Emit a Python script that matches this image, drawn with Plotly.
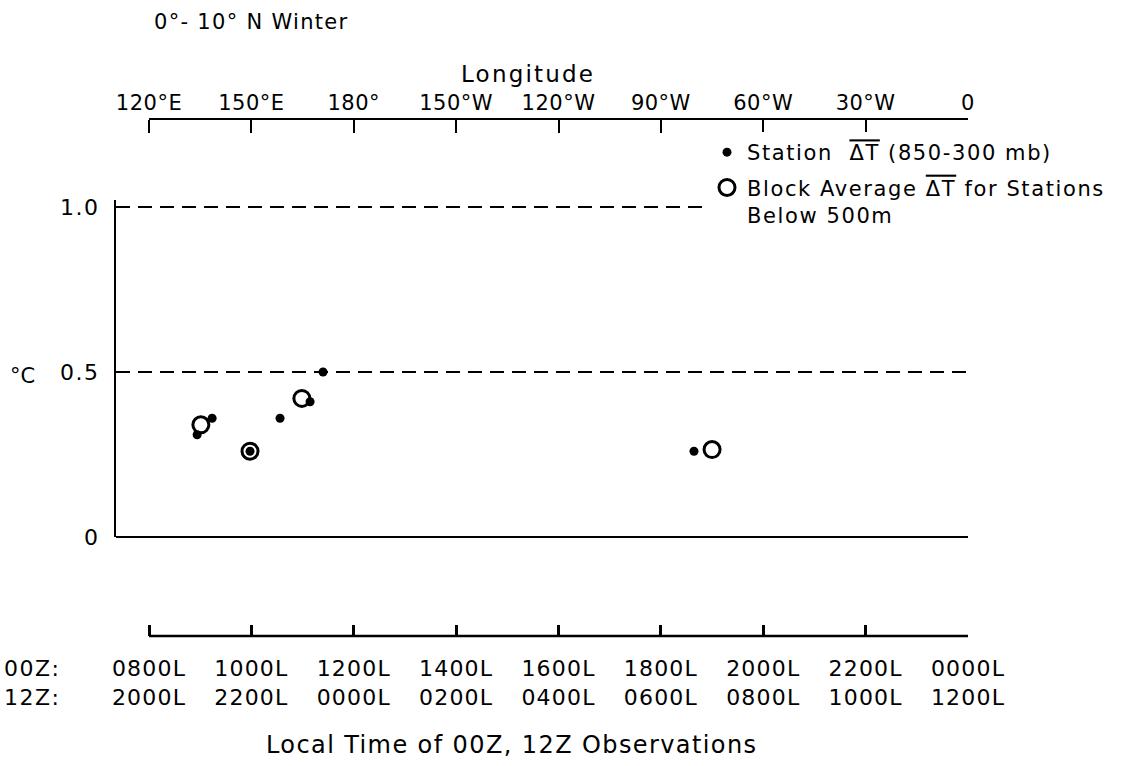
import plotly.graph_objects as go

# ---- data ----
lon_ticks = [120, 150, 180, 210, 240, 270, 300, 330, 360]
lon_labels = ["120°E", "150°E", "180°", "150°W", "120°W", "90°W", "60°W", "30°W", "0"]
time_00z = ["0800L", "1000L", "1200L", "1400L", "1600L", "1800L", "2000L", "2200L", "0000L"]
time_12z = ["2000L", "2200L", "0000L", "0200L", "0400L", "0600L", "0800L", "1000L", "1200L"]
y_ticks = [0, 0.5, 1.0]
y_labels = ["0", "0.5", "1.0"]

station_lon = [134.1, 138.5, 149.6, 158.4, 167.2, 171.0, 279.7]   # degrees east
station_dt = [0.31, 0.36, 0.26, 0.36, 0.41, 0.50, 0.26]
block_lon = [135.2, 149.6, 164.8, 285.0]
block_dt = [0.34, 0.26, 0.42, 0.265]

W, H = 1125, 766
FONT = "DejaVu Sans"


def px(x):
    return x / W


def py(y):
    return (H - y) / H


def ls(text, sp):
    return "<span style='letter-spacing:%spx'>%s</span>" % (sp, text)


OVL = "<span style='text-decoration:overline'>ΔT</span>"

fig = go.Figure()

fig.add_trace(go.Scatter(
    x=station_lon, y=station_dt, mode="markers",
    name=ls("Station  " + OVL + " (850-300 mb)", 1.6),
    marker=dict(symbol="circle", size=9, color="black"),
    legendgroup="a", hoverinfo="skip"))
fig.add_trace(go.Scatter(
    x=block_lon, y=block_dt, mode="markers",
    name=ls("Block Average " + OVL + " for Stations", 1.6) + "<br>" + ls("Below 500m", 1.6),
    marker=dict(symbol="circle-open", size=16, color="black", line=dict(width=3, color="black")),
    legendgroup="b", hoverinfo="skip"))
# empty traces so that the longitude and local-time axes get drawn
fig.add_trace(go.Scatter(x=[None], y=[None], xaxis="x2", yaxis="y", showlegend=False, hoverinfo="skip"))
fig.add_trace(go.Scatter(x=[None], y=[None], xaxis="x3", yaxis="y", showlegend=False, hoverinfo="skip"))

x_left = 120 - (149 - 116) / ((968 - 149) / 240)
y_top = 1.02
dom_top = 207 - (y_top - 1.0) * (537 - 207)

common_x = dict(range=[x_left, 360], fixedrange=True, automargin=False)

fig.update_layout(
    width=W, height=H,
    margin=dict(l=0, r=0, t=0, b=0, autoexpand=False),
    paper_bgcolor="white", plot_bgcolor="rgba(0,0,0,0)",
    font=dict(family=FONT, size=21, color="black"),
    showlegend=True,
    legend=dict(x=px(707), y=py(132), xanchor="left", yanchor="top",
                bgcolor="white", borderwidth=0, valign="top",
                traceorder="grouped", tracegroupgap=5,
                font=dict(family=FONT, size=21, color="black")),
    xaxis=dict(domain=[px(116), px(968)], visible=False, **common_x),
    yaxis=dict(domain=[py(537), py(dom_top)], range=[0, y_top], anchor="x",
               automargin=False, fixedrange=True,
               showline=True, linecolor="black", linewidth=2,
               showgrid=True, gridcolor="black", gridwidth=1.5, griddash="14px,8px",
               zeroline=True, zerolinecolor="black", zerolinewidth=2,
               tickvals=y_ticks, ticktext=[ls(t, 1.5) for t in y_labels],
               ticks="", ticklabelstandoff=10,
               tickfont=dict(size=22)),
    xaxis2=dict(overlaying="x", anchor="free", position=py(119), side="top",
                showline=False, ticks="inside", ticklen=13, tickwidth=2, tickcolor="black",
                tickvals=lon_ticks, ticktext=[ls(t, 0.5) for t in lon_labels],
                showgrid=False, zeroline=False,
                ticklabelstandoff=5, tickfont=dict(size=21), **common_x),
    xaxis3=dict(overlaying="x", anchor="free", position=py(636), side="bottom",
                showline=False, ticks="inside", ticklen=11, tickwidth=2.5, tickcolor="black",
                tickvals=lon_ticks,
                ticktext=[ls(a, 1.2) + "<br>" + ls(b, 1.2) for a, b in zip(time_00z, time_12z)],
                showgrid=False, zeroline=False,
                ticklabelstandoff=17, tickfont=dict(size=22), **common_x),
)

# axis baselines of the longitude and local-time scales (data x, paper y)
fig.add_shape(type="line", xref="x", yref="paper", x0=lon_ticks[0], x1=lon_ticks[-1],
              y0=py(119), y1=py(119), line=dict(color="black", width=2))
fig.add_shape(type="line", xref="x", yref="paper", x0=lon_ticks[0], x1=lon_ticks[-1],
              y0=py(636), y1=py(636), line=dict(color="black", width=2.5))

ann = [
    dict(text=ls("0°- 10° N Winter", 1.3), x=px(152), y=py(22), xanchor="left", size=21),
    dict(text=ls("Longitude", 2.2), x=px(528), y=py(74), xanchor="center", size=23),
    dict(text="°C", x=px(8), y=py(376), xanchor="left", size=21),
    dict(text=ls("00Z:", 1.5), x=px(2), y=py(668), xanchor="left", size=22),
    dict(text=ls("12Z:", 1.5), x=px(2), y=py(697), xanchor="left", size=22),
    dict(text=ls("Local Time of 00Z, 12Z Observations", 1.4), x=px(511), y=py(745),
         xanchor="center", size=24),
]
for a in ann:
    fig.add_annotation(text=a["text"], x=a["x"], y=a["y"], xref="paper", yref="paper",
                       xanchor=a["xanchor"], yanchor="middle", showarrow=False,
                       font=dict(family=FONT, size=a["size"], color="black"))

fig.write_html("out.html")
